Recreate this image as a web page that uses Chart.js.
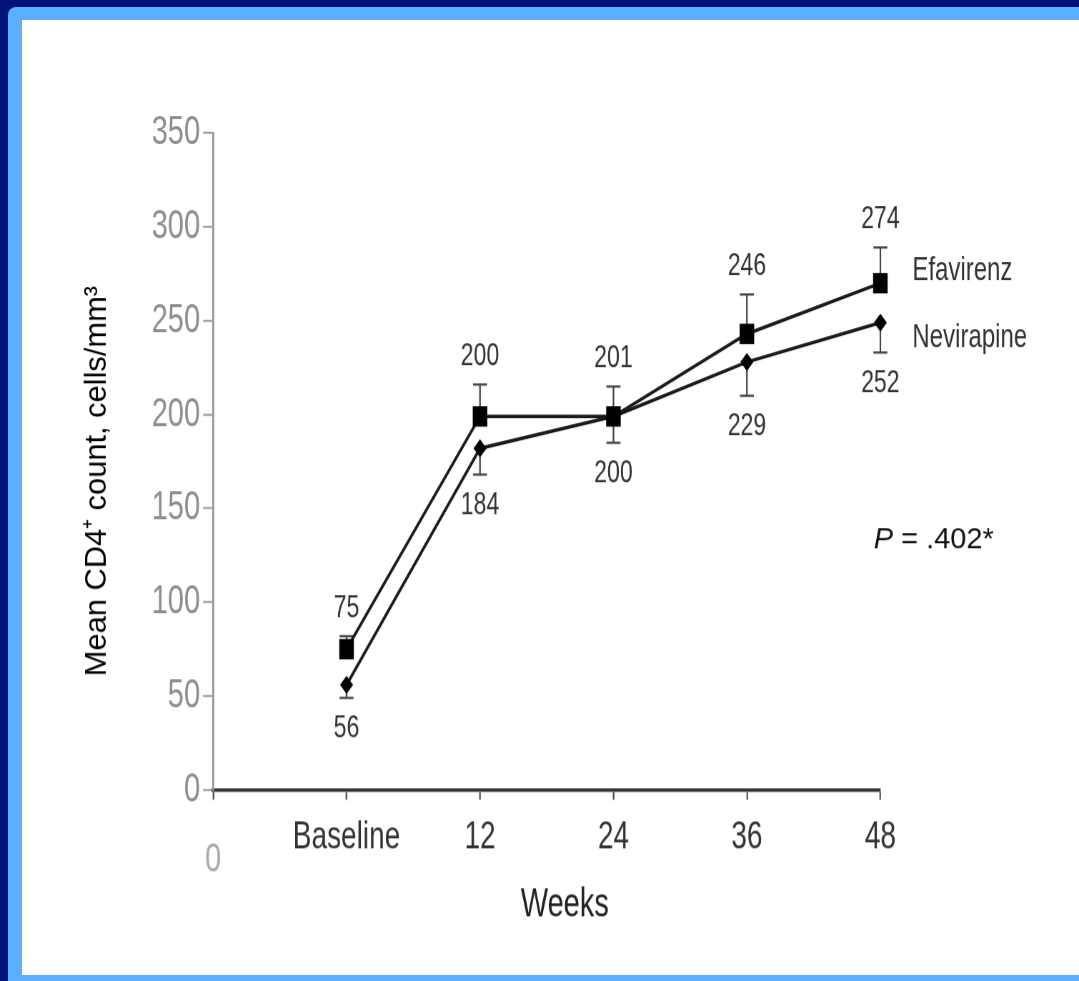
<!DOCTYPE html>
<html>
<head>
<meta charset="utf-8">
<script src="https://cdn.jsdelivr.net/npm/chart.js@4"></script>
<style>
  body { margin: 0; width: 1079px; height: 981px; background: #00137b; overflow: hidden; position: relative; }
  #frame { position: absolute; left: 8px; top: 7px; right: 0; bottom: 0; background: #5caeff; border-top-left-radius: 8px; }
  #panel { position: absolute; left: 22px; top: 20px; right: 0; bottom: 6px; background: #fff; }
  /* the slide picture is stretched vertically, so the canvas is too */
  #wrap { position: absolute; left: 0; top: 0; width: 1079px; height: 701px; transform: scaleY(1.4); transform-origin: 0 0; }
</style>
</head>
<body>
<div id="frame"></div>
<div id="panel"></div>
<div id="wrap"><canvas id="myChart" width="1079" height="701"></canvas></div>
<script>
// datos
const semanas = ['Baseline', '12', '24', '36', '48'];
const efavirenz = [75, 199, 199, 243, 270];
const nevirapine = [56, 182, 199, 228, 249];
const efavirenzSup = [82, 216, 215, 264, 289];   // extremo barra error (arriba)
const nevirapineInf = [49, 168, 185, 210, 233];  // extremo barra error (abajo)
const etiquetasEfv = ['75', '200', '201', '246', '274'];
const etiquetasNvp = ['56', '184', '200', '229', '252'];
const yTicks = [0, 50, 100, 150, 200, 250, 300, 350];

const S = 1.4; // estiramiento vertical
const FUENTE = '"Liberation Sans", Arial, sans-serif';

function puntos(valores) {
    return valores.map((v, i) => ({ x: i + 1, y: v }));
}

//plugin para barras de error, etiquetas y textos
const extras = {
    id: 'extras',
    beforeDatasetsDraw(chart) {
        const ctx = chart.ctx;
        const x = chart.scales.x, y = chart.scales.y;
        ctx.save();
        ctx.strokeStyle = '#444';
        ctx.lineWidth = 1.6;
        const barra = (i, desde, hasta) => {
            const px = x.getPixelForValue(i + 1);
            const y1 = y.getPixelForValue(desde), y2 = y.getPixelForValue(hasta);
            ctx.beginPath();
            ctx.moveTo(px, y1); ctx.lineTo(px, y2);
            ctx.moveTo(px - 7, y2); ctx.lineTo(px + 7, y2);
            ctx.stroke();
        };
        efavirenz.forEach((v, i) => barra(i, v, efavirenzSup[i]));
        nevirapine.forEach((v, i) => barra(i, v, nevirapineInf[i]));
        ctx.restore();
    },
    afterDatasetsDraw(chart) {
        const ctx = chart.ctx;
        const x = chart.scales.x, y = chart.scales.y;
        const area = chart.chartArea;
        ctx.save();
        ctx.fillStyle = '#333';
        ctx.textAlign = 'center';
        ctx.textBaseline = 'middle';
        ctx.font = '23px ' + FUENTE;
        etiquetasEfv.forEach((t, i) => {
            ctx.fillText(t, x.getPixelForValue(i + 1), y.getPixelForValue(efavirenzSup[i]) - 20);
        });
        etiquetasNvp.forEach((t, i) => {
            ctx.fillText(t, x.getPixelForValue(i + 1), y.getPixelForValue(nevirapineInf[i]) + 22);
        });

        // nombres de las series junto al ultimo punto
        const n = semanas.length - 1;
        ctx.textAlign = 'left';
        ctx.font = '24px ' + FUENTE;
        ctx.fillText('Efavirenz', x.getPixelForValue(n + 1) + 32, y.getPixelForValue(efavirenz[n]) - 9);
        ctx.fillText('Nevirapine', x.getPixelForValue(n + 1) + 32, y.getPixelForValue(nevirapine[n]) + 11);

        // "0" bajo el origen
        ctx.textAlign = 'center';
        ctx.fillStyle = '#aaa';
        ctx.font = '29px ' + FUENTE;
        ctx.fillText('0', x.getPixelForValue(0), area.bottom + 50);

        // titulo eje x
        ctx.fillStyle = '#222';
        ctx.font = '29px ' + FUENTE;
        ctx.fillText('Weeks', (area.left + area.right) / 2 + 18, area.bottom + 82);

        // titulo eje y (sin estirar, angosto)
        ctx.save();
        ctx.translate(area.left - 116, (area.top + area.bottom) / 2 + 14);
        ctx.scale(1, 1 / S);
        ctx.rotate(-Math.PI / 2);
        ctx.font = '31px ' + FUENTE;
        const tituloY = 'Mean CD4\u207A count, cells/mm\u00B3';
        const w = ctx.measureText(tituloY).width;
        ctx.scale(390 / w, 1);
        ctx.fillStyle = '#000';
        ctx.fillText(tituloY, 0, 0);
        ctx.restore();

        // valor P
        ctx.save();
        ctx.translate(x.getPixelForValue(4.95), y.getPixelForValue(133));
        ctx.scale(1, 1 / S);
        ctx.textAlign = 'left';
        ctx.fillStyle = '#111';
        ctx.font = 'italic 29px ' + FUENTE;
        ctx.fillText('P', 0, 0);
        const wp = ctx.measureText('P ').width;
        ctx.font = '29px ' + FUENTE;
        ctx.fillText('= .402*', wp, 0);
        ctx.restore();

        ctx.restore();
    }
};

const ctx = document.querySelector('#myChart').getContext('2d');
const chart = new Chart(ctx, {
    type: 'line',
    data: {
        datasets: [{
            label: 'Efavirenz',
            data: puntos(efavirenz),
            borderColor: '#1a1a1a',
            borderWidth: 2.5,
            backgroundColor: '#000',
            pointStyle: 'rect',
            pointRadius: 10.3,
            pointBorderWidth: 0,
            pointBackgroundColor: '#000',
            tension: 0,
            clip: false
        }, {
            label: 'Nevirapine',
            data: puntos(nevirapine),
            borderColor: '#1a1a1a',
            borderWidth: 2.5,
            backgroundColor: '#000',
            pointStyle: 'rectRot',
            pointRadius: 6.5,
            pointBorderWidth: 0,
            pointBackgroundColor: '#000',
            tension: 0,
            clip: false
        }]
    },
    options: {
        responsive: false,
        animation: false,
        devicePixelRatio: S,
        layout: { padding: { left: 0, top: 95, right: 199, bottom: 0 } },
        plugins: { legend: { display: false }, tooltip: { enabled: false } },
        scales: {
            x: {
                type: 'linear',
                min: 0,
                max: 5,
                afterBuildTicks: (s) => { s.ticks = [0, 1, 2, 3, 4, 5].map(v => ({ value: v })); },
                afterFit: (s) => { s.height = 137; },
                ticks: {
                    callback: (v) => v === 0 ? '' : semanas[v - 1],
                    color: '#333',
                    font: { family: FUENTE, size: 28 },
                    padding: 10,
                    maxRotation: 0,
                    autoSkip: false
                },
                grid: { drawOnChartArea: false, tickLength: 7, tickColor: '#444', tickWidth: 1.5 },
                border: { color: '#333', width: 2.5 }
            },
            y: {
                min: 0,
                max: 350,
                afterBuildTicks: (s) => { s.ticks = yTicks.map(v => ({ value: v })); },
                afterFit: (s) => { s.width = 213; },
                ticks: {
                    color: '#8e8e8e',
                    font: { family: FUENTE, size: 29 },
                    padding: 3
                },
                grid: { drawOnChartArea: false, tickLength: 10, tickColor: '#999', tickWidth: 1.4 },
                border: { color: '#999', width: 2 }
            }
        }
    },
    plugins: [extras]
});
</script>
</body>
</html>
